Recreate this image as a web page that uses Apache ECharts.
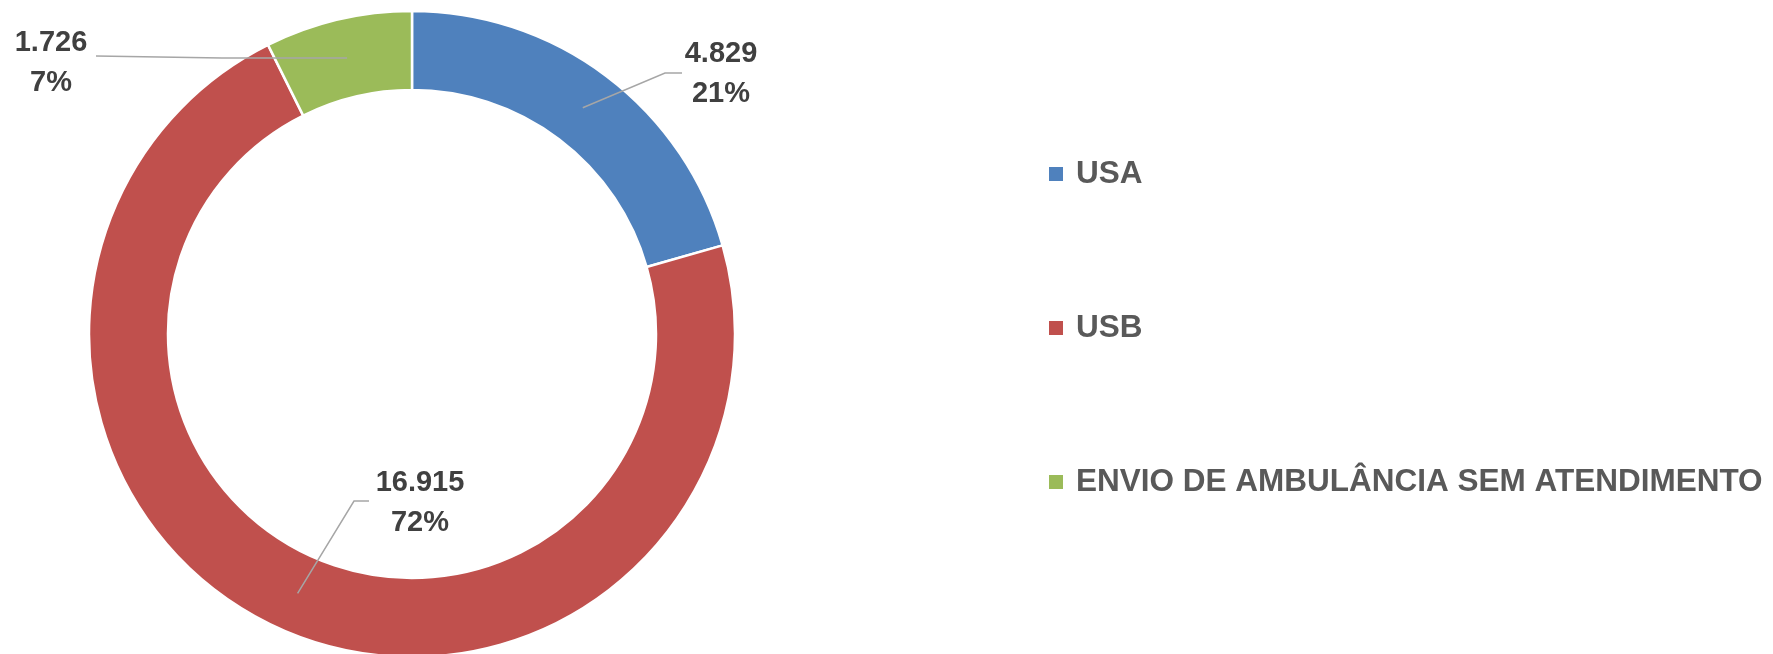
<!DOCTYPE html>
<html>
<head>
<meta charset="utf-8">
<script src="https://cdn.jsdelivr.net/npm/echarts@6/dist/echarts.min.js"></script>
<style>
html,body{margin:0;padding:0;background:#fff;}
#c{width:1773px;height:654px;}
</style>
</head>
<body>
<div id="c"></div>
<script>
const categories = ['USA', 'USB', 'ENVIO DE AMBULÂNCIA SEM ATENDIMENTO'];
const values = [4829, 16915, 1726];

const colors = ['#4f81bd', '#c0504d', '#9bbb59'];
const CX = 412, CY = 334, R0 = 244, R1 = 323;
const RM = (R0 + R1) / 2;
// label layout offsets relative to the center: [elbow, lineEnd, labelCenter]
const labelSpec = [
  [[253, -261], [270, -261], [309, -260]],
  [[-58, 167], [-43, 167], [8, 169]],
  [[-190, -276], [-316, -278], [-361, -271]]
];

function fmt(v) {
  return String(v).replace(/\B(?=(\d{3})+(?!\d))/g, '.');
}
const total = values.reduce((a, b) => a + b, 0);
function midAngle(i) {
  let before = 0;
  for (let k = 0; k < i; k++) before += values[k];
  return (before + values[i] / 2) / total * 2 * Math.PI;
}
const pieData = categories.map((c, i) => ({name: c, value: values[i]}));

const chart = echarts.init(document.getElementById('c'), null, {renderer: 'canvas'});
chart.setOption({
  animation: false,
  color: colors,
  legend: {
    orient: 'vertical',
    left: 1047,
    top: 156,
    padding: 0,
    itemWidth: 16,
    itemHeight: 16,
    itemGap: 118,
    icon: 'rect',
    data: categories,
    textStyle: {
      fontFamily: 'Liberation Sans',
      fontWeight: 'bold',
      fontSize: 31.5,
      lineHeight: 36,
      color: '#595959',
      padding: [0, 0, 0, 7]
    }
  },
  series: [{
    type: 'pie',
    z: 1,
    center: [CX, CY],
    radius: [R0, R1],
    startAngle: 90,
    clockwise: true,
    itemStyle: {borderColor: '#ffffff', borderWidth: 2.5},
    label: {show: false},
    labelLine: {show: false},
    data: pieData
  }, {
    type: 'pie',
    z: 5,
    silent: true,
    center: [CX, CY],
    radius: [R0, R1],
    startAngle: 90,
    clockwise: true,
    avoidLabelOverlap: false,
    itemStyle: {color: 'rgba(0,0,0,0)', borderWidth: 0},
    label: {
      show: true,
      position: 'outside',
      formatter: function (p) {
        return '{a|' + fmt(p.value) + '}\n{a|' + Math.round(p.value / total * 100) + '%}';
      },
      rich: {
        a: {
          fontFamily: 'Liberation Sans',
          fontWeight: 'bold',
          fontSize: 29,
          lineHeight: 40,
          color: '#404040',
          align: 'center'
        }
      }
    },
    labelLine: {
      show: true,
      lineStyle: {color: '#a6a6a6', width: 1.5}
    },
    labelLayout: function (params) {
      const i = params.dataIndex;
      const a = midAngle(i);
      const s = [CX + RM * Math.sin(a), CY - RM * Math.cos(a)];
      const sp = labelSpec[i];
      const e = [CX + sp[0][0], CY + sp[0][1]];
      const f = [CX + sp[1][0], CY + sp[1][1]];
      return {
        x: CX + sp[2][0],
        y: CY + sp[2][1],
        align: 'center',
        verticalAlign: 'middle',
        labelLinePoints: [s, e, f]
      };
    },
    data: pieData
  }]
});
</script>
</body>
</html>
